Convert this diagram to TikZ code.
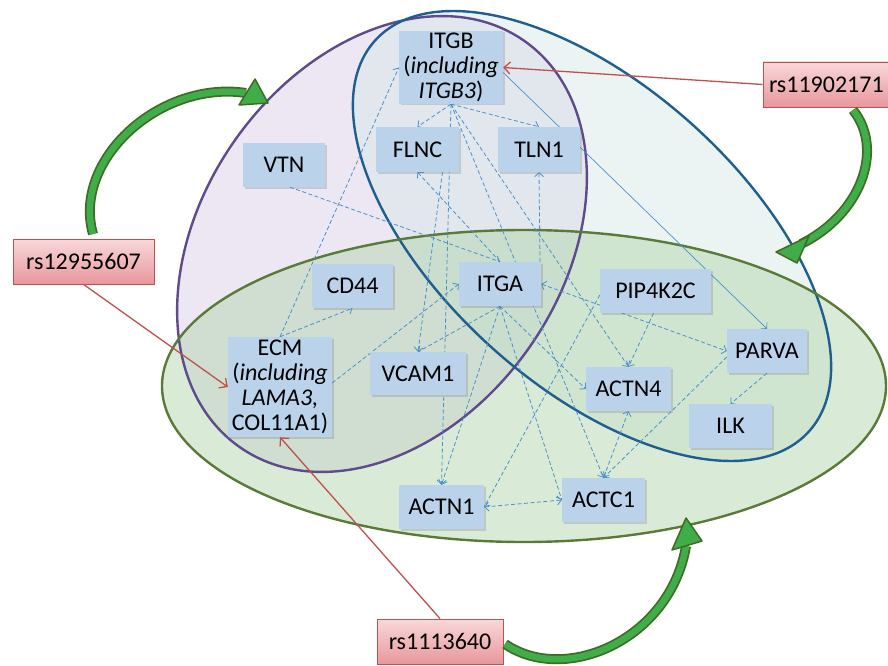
\documentclass[tikz,border=0pt]{standalone}
\usepackage{fontspec}
\setmainfont{Carlito}
\usetikzlibrary{arrows.meta,shadows}
\definecolor{boxblue}{HTML}{BAD3EA}
\definecolor{conn}{HTML}{4A90CF}
\definecolor{rsred}{HTML}{C0504D}
\definecolor{rstop}{HTML}{F8D8DA}
\definecolor{rsbot}{HTML}{E8979C}
\definecolor{purpline}{HTML}{5E4A8C}
\definecolor{purpfill}{HTML}{DCD3E8}
\definecolor{blueline}{HTML}{1F5F8F}
\definecolor{bluefill}{HTML}{D8E8E8}
\definecolor{greenline}{HTML}{5A7A38}
\definecolor{greenfill}{HTML}{B3D7AE}
\definecolor{garrow}{HTML}{3FAE4A}
\definecolor{garrowline}{HTML}{3F6B22}
\pgfdeclarelayer{bg}
\pgfdeclarelayer{connlayer}
\pgfsetlayers{bg,connlayer,main}
\begin{document}
\begin{tikzpicture}[x=1pt,y=-1pt,
  font=\fontsize{24}{25}\selectfont,
  box/.style={fill=boxblue, inner sep=0pt, align=center,
    drop shadow={shadow xshift=1.5pt,shadow yshift=-1.5pt,opacity=0.3}},
  rsbox/.style={draw=rsred, line width=0.8pt, top color=rstop, bottom color=rsbot,
    inner sep=0pt, align=center},
  dconn/.style={draw=conn, dash pattern=on 4pt off 2.5pt, line width=0.8pt,
    -{Straight Barb[length=4pt,width=9pt]}},
  dconnb/.style={dconn, {Straight Barb[length=4pt,width=9pt]}-{Straight Barb[length=4pt,width=9pt]}},
  sconn/.style={draw=conn, line width=0.7pt, -{Straight Barb[length=4pt,width=9pt]}},
  redarrow/.style={draw=rsred, line width=1.3pt, -{Straight Barb[length=6pt,width=12pt]}},
  gshaft/.style={draw=garrowline, line width=10pt},
  gshaftin/.style={draw=garrow, line width=6.5pt},
  ghead/.style={fill=garrow, draw=garrowline, line width=1.5pt, line join=round},
  ell/.style={line width=2.4pt}
]
\useasboundingbox (0,0) rectangle (888,666);

\begin{pgfonlayer}{bg}
\fill[purpfill, fill opacity=0.55, rotate around={55:(382,244)}] (382,244) ellipse [x radius=248, y radius=180];
\fill[bluefill, fill opacity=0.5, rotate around={-42:(592,236)}] (592,236) ellipse [x radius=292, y radius=150];
\fill[greenfill, fill opacity=0.5] (524,386) ellipse [x radius=362, y radius=156];
\draw[ell, purpline, rotate around={55:(382,244)}] (382,244) ellipse [x radius=248, y radius=180];
\draw[ell, blueline, rotate around={-42:(592,236)}] (592,236) ellipse [x radius=292, y radius=150];
\draw[ell, greenline] (524,386) ellipse [x radius=362, y radius=156];
\end{pgfonlayer}

% nodes
\node[box, minimum width=104pt, minimum height=73pt] (ITGB) at (451,67.5) {ITGB\\(\textit{including}\\\textit{ITGB3})};
\node[box, minimum width=83pt, minimum height=45pt] (FLNC) at (417.5,149.5) {FLNC};
\node[box, minimum width=82pt, minimum height=45pt] (TLN1) at (539,149.5) {TLN1};
\node[box, minimum width=82pt, minimum height=44pt] (VTN) at (284,165) {VTN};
\node[box, minimum width=81pt, minimum height=44pt] (CD44) at (352.5,286) {CD44};
\node[box, minimum width=82pt, minimum height=44pt] (ITGA) at (500,284) {ITGA};
\node[box, minimum width=104pt, minimum height=100pt] (ECM) at (280,387) {ECM\\(\textit{including}\\\textit{LAMA3,}\\COL11A1)};
\node[box, minimum width=96pt, minimum height=43pt] (VCAM1) at (418,373.5) {VCAM1};
\node[box, minimum width=111pt, minimum height=44pt] (PIP) at (655.5,291) {PIP4K2C};
\node[box, minimum width=80pt, minimum height=44pt] (PARVA) at (767,351) {PARVA};
\node[box, minimum width=85pt, minimum height=44pt] (ACTN4) at (628.5,389) {ACTN4};
\node[box, minimum width=83pt, minimum height=44pt] (ILK) at (730.5,426) {ILK};
\node[box, minimum width=85pt, minimum height=44pt] (ACTN1) at (441.5,507) {ACTN1};
\node[box, minimum width=83pt, minimum height=44pt] (ACTC1) at (603.5,500) {ACTC1};

\node[rsbox, minimum width=141pt, minimum height=45pt] (rsA) at (83.5,261.5) {rs12955607};
\node[rsbox, minimum width=136pt, minimum height=45pt, text width=124pt, align=left] (rsB) at (831,84.5) {rs11902171};
\node[rsbox, minimum width=126pt, minimum height=45pt] (rsC) at (440,641.5) {rs1113640};

\begin{pgfonlayer}{connlayer}
\draw[dconn] (ITGB.south) -- (FLNC.north);
\draw[dconn] (ITGB.south) -- (TLN1.north);
\draw[dconn] (ITGB.south) -- (ACTN1.north);
\draw[dconn] (ITGB.south) -- (ACTN4.north);
\draw[dconn] (ITGB.south) -- (ACTC1.north);
\draw[dconn] (ECM.north) -- (ITGB.west);
\draw[dconn] (ECM.north) -- (CD44.south);
\draw[dconn] ([yshift=4pt]ECM.east) -- (ITGA.west);
\draw[dconn] ([xshift=6pt]VTN.south) -- (ITGA.north);
\draw[dconn] (ITGA.north) -- (FLNC.south);
\draw[dconn] ([xshift=25pt]FLNC.south) -- (VCAM1.north);
\draw[dconn] (ITGA.south) -- (VCAM1.north);
\draw[dconn] (ITGA.south) -- (ACTN1.north);
\draw[dconn] (ITGA.south) -- (ACTN4.west);
\draw[dconn] (ITGA.south) -- (ACTC1.west);
\draw[dconnb] (ACTN1.east) -- (ACTC1.west);
\draw[dconn] ([yshift=-4pt]PIP.west) -- (ACTN1.east);
\draw[dconn] ([xshift=-2pt]PIP.south) -- (ACTN4.north);
\draw[dconnb] (ITGA.east) -- (PARVA.west);
\draw[dconnb] (ACTN4.south) -- (ACTC1.north);
\draw[dconn] ([yshift=-6pt]PARVA.west) -- (ACTC1.north);
\draw[dconn] (PARVA.south) -- (ILK.north);
\draw[dconn] ([xshift=40pt]ITGA.north) -- (TLN1.south);
\draw[sconn] ([yshift=-5pt]ITGB.east) -- (PARVA.north);
\end{pgfonlayer}

% SNP links
\draw[redarrow] (rsB.west) -- (ITGB.east);
\draw[redarrow] (rsA.south) -- (ECM.west);
\draw[redarrow] (rsC.north) -- (ECM.south);

% green curved arrows
\coordinate (gA0) at (93,234);
\coordinate (gA1) at (246,93);
\draw[gshaft] (gA0) .. controls (72,160) and (160,80) .. (gA1);
\draw[gshaftin] (gA0) .. controls (72,160) and (160,80) .. (gA1);
\draw[ghead] (268,103) -- (255,79) -- (239,105) -- cycle;

\coordinate (gB0) at (853,110);
\coordinate (gB1) at (801,244);
\draw[gshaft] (gB0) .. controls (885,150) and (860,215) .. (gB1);
\draw[gshaftin] (gB0) .. controls (885,150) and (860,215) .. (gB1);
\draw[ghead] (776,252) -- (809,236) -- (797,263) -- cycle;

\coordinate (gC0) at (505,644);
\coordinate (gC1) at (686,546);
\draw[gshaft] (gC0) .. controls (565,685) and (670,640) .. (gC1);
\draw[gshaftin] (gC0) .. controls (565,685) and (670,640) .. (gC1);
\draw[ghead] (686,518) -- (702,541) -- (672,550) -- cycle;
\end{tikzpicture}
\end{document}
